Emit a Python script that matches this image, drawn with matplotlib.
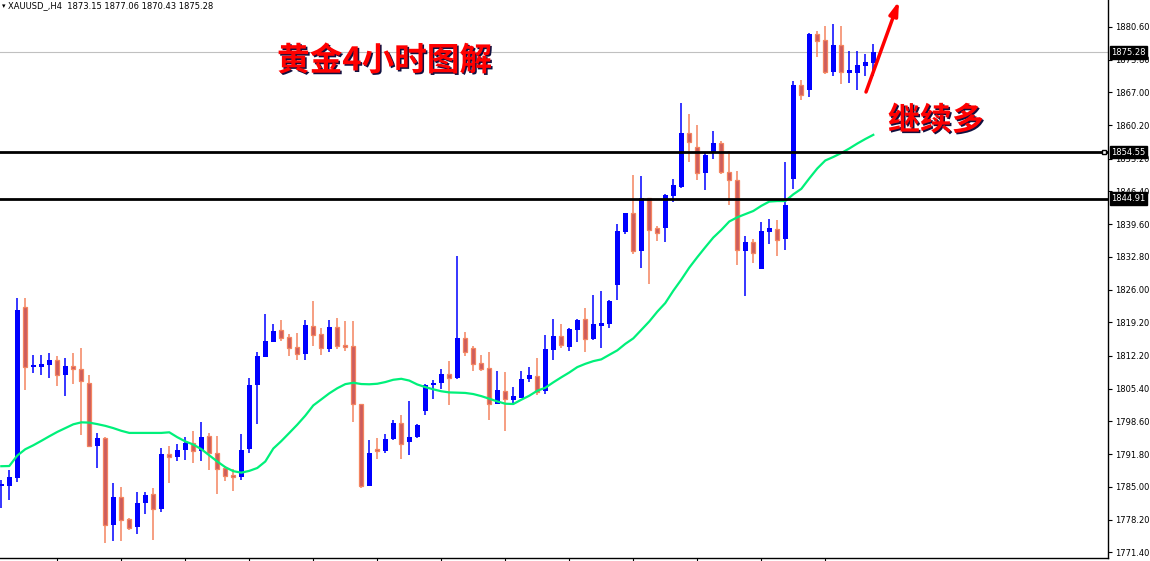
import matplotlib
matplotlib.use('Agg')
import matplotlib.pyplot as plt
import matplotlib.patheffects as pe
import numpy as np

# XAUUSD H4 candles
opens = [1785.14, 1785.14, 1786.73, 1822.31, 1809.80, 1810.00, 1810.42, 1811.39, 1808.34, 1810.15,
         1809.53, 1806.63, 1793.43, 1795.23, 1777.06, 1782.80, 1778.24, 1776.64, 1781.55, 1783.42,
         1780.37, 1791.91, 1791.15, 1792.60, 1794.19, 1792.39, 1795.64, 1792.12, 1788.81, 1787.36,
         1787.00, 1792.80, 1806.21, 1812.07, 1815.18, 1817.61, 1816.16, 1814.08, 1812.70, 1818.37,
         1816.72, 1813.73, 1818.17, 1814.50, 1814.29, 1802.21, 1785.22, 1792.95, 1792.39, 1795.02,
         1798.34, 1794.26, 1795.29, 1800.68, 1806.07, 1806.48, 1808.49, 1807.66, 1815.95, 1813.88,
         1810.77, 1809.73, 1802.27, 1804.97, 1803.10, 1803.52, 1807.31, 1808.08, 1804.82, 1813.52,
         1816.36, 1814.15, 1817.67, 1819.89, 1815.80, 1818.50, 1818.91, 1826.99, 1837.97, 1841.85,
         1834.04, 1844.96, 1838.74, 1838.74, 1845.37, 1847.30, 1858.63, 1855.67, 1850.14, 1854.63,
         1856.50, 1850.49, 1848.83, 1834.04, 1835.84, 1830.31, 1837.97, 1838.68, 1836.52, 1848.89,
         1868.58, 1867.40, 1879.15, 1877.90, 1871.27, 1876.87, 1871.00, 1871.00, 1872.37, 1873.15]
highs = [1786.38, 1788.39, 1824.24, 1824.24, 1812.43, 1812.43, 1812.84, 1812.22, 1811.81, 1812.84,
         1813.88, 1808.28, 1796.27, 1795.30, 1785.70, 1784.87, 1778.45, 1783.83, 1783.83, 1784.66,
         1793.16, 1793.57, 1793.99, 1795.44, 1796.68, 1798.54, 1796.27, 1795.64, 1789.22, 1788.66,
         1795.91, 1807.66, 1813.05, 1820.92, 1818.85, 1819.68, 1816.78, 1816.99, 1819.68, 1823.62,
         1818.02, 1819.68, 1820.09, 1819.47, 1819.47, 1802.25, 1794.82, 1795.23, 1796.06, 1798.90,
         1800.00, 1802.90, 1798.13, 1806.36, 1807.25, 1809.53, 1811.18, 1832.94, 1817.19, 1814.35,
         1812.43, 1813.11, 1809.11, 1808.91, 1805.80, 1809.11, 1809.94, 1811.87, 1816.57, 1819.89,
         1818.85, 1818.02, 1819.89, 1822.17, 1824.86, 1825.69, 1823.82, 1839.57, 1842.00, 1849.72,
         1849.52, 1845.00, 1839.22, 1845.79, 1848.89, 1864.85, 1862.57, 1860.29, 1854.30, 1858.90,
         1856.83, 1854.90, 1850.61, 1837.23, 1836.46, 1839.98, 1840.61, 1840.40, 1852.42, 1869.26,
         1869.61, 1879.41, 1879.83, 1880.80, 1881.22, 1880.80, 1875.69, 1875.69, 1875.00, 1877.06]
lows = [1780.52, 1782.18, 1785.91, 1805.03, 1808.70, 1808.28, 1807.66, 1806.00, 1803.93, 1806.42,
        1795.85, 1793.30, 1789.01, 1773.33, 1773.74, 1773.74, 1776.02, 1775.19, 1779.34, 1773.95,
        1779.75, 1785.76, 1790.32, 1790.53, 1789.90, 1790.32, 1788.45, 1783.48, 1786.11, 1784.10,
        1786.46, 1791.98, 1797.99, 1811.90, 1815.06, 1815.39, 1812.28, 1811.45, 1811.45, 1814.35,
        1812.49, 1813.11, 1813.73, 1813.32, 1798.40, 1784.66, 1785.08, 1790.88, 1792.12, 1794.75,
        1790.88, 1791.56, 1795.17, 1799.85, 1803.31, 1805.24, 1801.92, 1807.45, 1812.28, 1809.17,
        1808.97, 1798.81, 1802.13, 1796.53, 1802.48, 1803.37, 1806.69, 1803.99, 1804.20, 1811.45,
        1813.94, 1813.32, 1815.18, 1813.11, 1815.60, 1813.94, 1818.08, 1823.88, 1837.56, 1833.42,
        1830.52, 1827.20, 1836.11, 1835.90, 1844.27, 1847.03, 1852.48, 1848.69, 1846.61, 1853.04,
        1849.93, 1843.57, 1831.07, 1824.71, 1831.55, 1830.20, 1835.49, 1833.00, 1834.24, 1846.82,
        1865.32, 1866.09, 1874.44, 1870.86, 1870.30, 1868.64, 1868.93, 1867.54, 1870.30, 1870.43]
closes = [1785.55, 1786.94, 1821.75, 1810.00, 1810.35, 1810.56, 1811.39, 1808.34, 1810.15, 1809.59,
          1806.89, 1793.43, 1795.23, 1777.06, 1782.80, 1778.09, 1776.44, 1781.55, 1783.21, 1780.37,
          1791.91, 1791.15, 1792.74, 1794.19, 1792.39, 1795.44, 1791.98, 1788.66, 1787.29, 1787.00,
          1792.74, 1806.21, 1812.22, 1815.33, 1817.40, 1816.01, 1813.94, 1812.70, 1818.64, 1816.63,
          1813.82, 1818.23, 1814.35, 1814.15, 1802.13, 1785.22, 1792.12, 1792.47, 1795.02, 1798.34,
          1793.84, 1795.44, 1797.92, 1806.21, 1806.63, 1808.49, 1807.72, 1815.95, 1813.11, 1810.62,
          1809.59, 1802.13, 1805.17, 1803.16, 1803.93, 1807.45, 1808.14, 1804.62, 1813.67, 1816.36,
          1814.56, 1817.81, 1819.68, 1815.80, 1818.85, 1819.06, 1823.62, 1838.12, 1841.85, 1834.04,
          1844.96, 1838.39, 1837.85, 1845.58, 1847.65, 1858.63, 1856.71, 1850.20, 1854.07, 1856.50,
          1850.41, 1848.83, 1834.12, 1835.84, 1833.62, 1838.12, 1838.74, 1836.32, 1843.51, 1868.58,
          1866.44, 1879.21, 1877.76, 1871.13, 1876.93, 1871.13, 1871.54, 1872.58, 1873.20, 1875.28]

# moving average line (green)
ma = [1789.28, 1789.32, 1791.50, 1792.81, 1793.63, 1794.55, 1795.50, 1796.41, 1797.20, 1797.99,
      1798.40, 1798.34, 1798.03, 1797.67, 1797.20, 1796.64, 1796.20, 1796.20, 1796.20, 1796.20,
      1796.20, 1796.33, 1795.31, 1794.44, 1793.78, 1792.83, 1791.54, 1790.26, 1789.08, 1788.25,
      1787.94, 1788.31, 1788.91, 1790.26, 1792.95, 1794.50, 1796.20, 1797.92, 1799.79, 1801.92,
      1803.17, 1804.43, 1805.49, 1806.34, 1806.63, 1806.36, 1806.31, 1806.42, 1806.77, 1807.25,
      1807.45, 1807.08, 1806.27, 1805.73, 1805.26, 1804.86, 1804.62, 1804.57, 1804.51, 1804.28,
      1803.85, 1803.31, 1802.75, 1802.27, 1802.21, 1803.10, 1803.93, 1804.97, 1805.59, 1806.71,
      1807.76, 1808.76, 1809.88, 1810.56, 1811.12, 1811.49, 1812.43, 1813.36, 1814.71, 1815.85,
      1817.61, 1819.37, 1821.40, 1823.20, 1825.75, 1828.07, 1830.56, 1832.73, 1834.80, 1836.81,
      1838.39, 1840.15, 1841.02, 1841.68, 1842.33, 1843.40, 1844.29, 1844.40, 1844.40, 1845.79,
      1846.93, 1849.10, 1851.17, 1852.83, 1853.56, 1854.38, 1855.32, 1856.35, 1857.29, 1858.16]

levels = [1854.55, 1844.91]
last_price = 1875.28
price_ticks = [1880.60, 1873.80, 1867.00, 1860.20, 1853.20, 1846.40, 1839.60, 1832.80, 1826.00,
               1819.20, 1812.20, 1805.40, 1798.60, 1791.80, 1785.00, 1778.20, 1771.40]
header = 'XAUUSD_,H4  1873.15 1877.06 1870.43 1875.28'
title = '黄金4小时图解'
note = '继续多'

BLUE = '#0000ff'
RED_FILL = '#cd5c5c'
RED_EDGE = '#f4845f'

fig = plt.figure(figsize=(11.5, 5.61), dpi=100)
ax = fig.add_axes([0, 3 / 561, 1108 / 1150, 558 / 561])

o = np.array(opens)
h = np.array(highs)
l = np.array(lows)
c = np.array(closes)
x = np.arange(len(o))
up = c >= o

# svíčky
ax.vlines(x[up], l[up], h[up], color=BLUE, lw=1.1, zorder=2)
ax.vlines(x[~up], l[~up], h[~up], color=RED_EDGE, lw=1.1, zorder=2)
bottom = np.minimum(o, c)
height = np.maximum(np.abs(c - o), 0.35)
ax.bar(x[up], height[up], bottom=bottom[up], width=0.62, color=BLUE, lw=0, zorder=3)
ax.bar(x[~up], height[~up], bottom=bottom[~up], width=0.46, color=RED_FILL,
       edgecolor=RED_EDGE, lw=0.9, zorder=3)

# klouzavý průměr
ax.plot(x, ma, color='#00f07a', lw=1.6, zorder=4)

# horizontální úrovně
for lv in levels:
    ax.axhline(lv, color='black', lw=2, zorder=5)
ax.axhline(last_price, color='#c0c0c0', lw=0.8, zorder=1)
ax.plot([0.9965], [levels[0]], marker='s', ms=3.5, mfc='white', mec='black', mew=1,
        transform=ax.get_yaxis_transform(), clip_on=False, zorder=6)

ax.set_xlim(-0.1625, 138.34)
ax.set_ylim(1770.2, 1886.19)

for s in ['top', 'left']:
    ax.spines[s].set_visible(False)
ax.spines['right'].set_linewidth(1)
ax.spines['bottom'].set_linewidth(1)

ax.yaxis.tick_right()
ax.set_yticks(price_ticks)
ax.set_yticklabels(['%.2f' % t for t in price_ticks])
ax.tick_params(axis='y', direction='out', length=3, labelsize=6, pad=2, colors='black')
ax.set_xticks(np.arange(7, len(o), 8))
ax.set_xticklabels([])
ax.tick_params(axis='x', direction='out', length=4)

# popisky cen vpravo
for val in levels + [last_price]:
    ax.text(1.003, val, '%.2f' % val, transform=ax.get_yaxis_transform(), color='white',
            fontsize=6, va='center', ha='left', clip_on=False, zorder=7,
            bbox=dict(boxstyle='square,pad=0.2', fc='black', ec='black'))

fig.text(2 / 1150, 1 - 6 / 561, '▾', fontsize=5, va='center', ha='left')
fig.text(8 / 1150, 1 - 6 / 561, header, fontsize=6, va='center', ha='left')

shadow = [pe.withSimplePatchShadow(offset=(1.1, -1.1), shadow_rgbFace='#101040', alpha=1)]
ax.text(0.25, 0.8907, title, transform=ax.transAxes, fontsize=23.5, color='red',
        fontweight='bold', family=['Noto Sans CJK SC', 'DejaVu Sans'], va='center', ha='left',
        path_effects=shadow, zorder=8)
ax.text(0.8014, 0.7832, note, transform=ax.transAxes, fontsize=23, color='red',
        fontweight='bold', family=['Noto Sans CJK SC', 'DejaVu Sans'], va='center', ha='left',
        path_effects=shadow, zorder=8)

ax.annotate('', xy=(899 / 1108, 1 - 1 / 558), xytext=(866 / 1108, 1 - 92 / 558),
            xycoords='axes fraction', textcoords='axes fraction', annotation_clip=False,
            arrowprops=dict(arrowstyle='-|>,head_length=0.8,head_width=0.25', color='red',
                            lw=2.5, shrinkA=0, shrinkB=0))

fig.savefig('out.png', dpi=100)
